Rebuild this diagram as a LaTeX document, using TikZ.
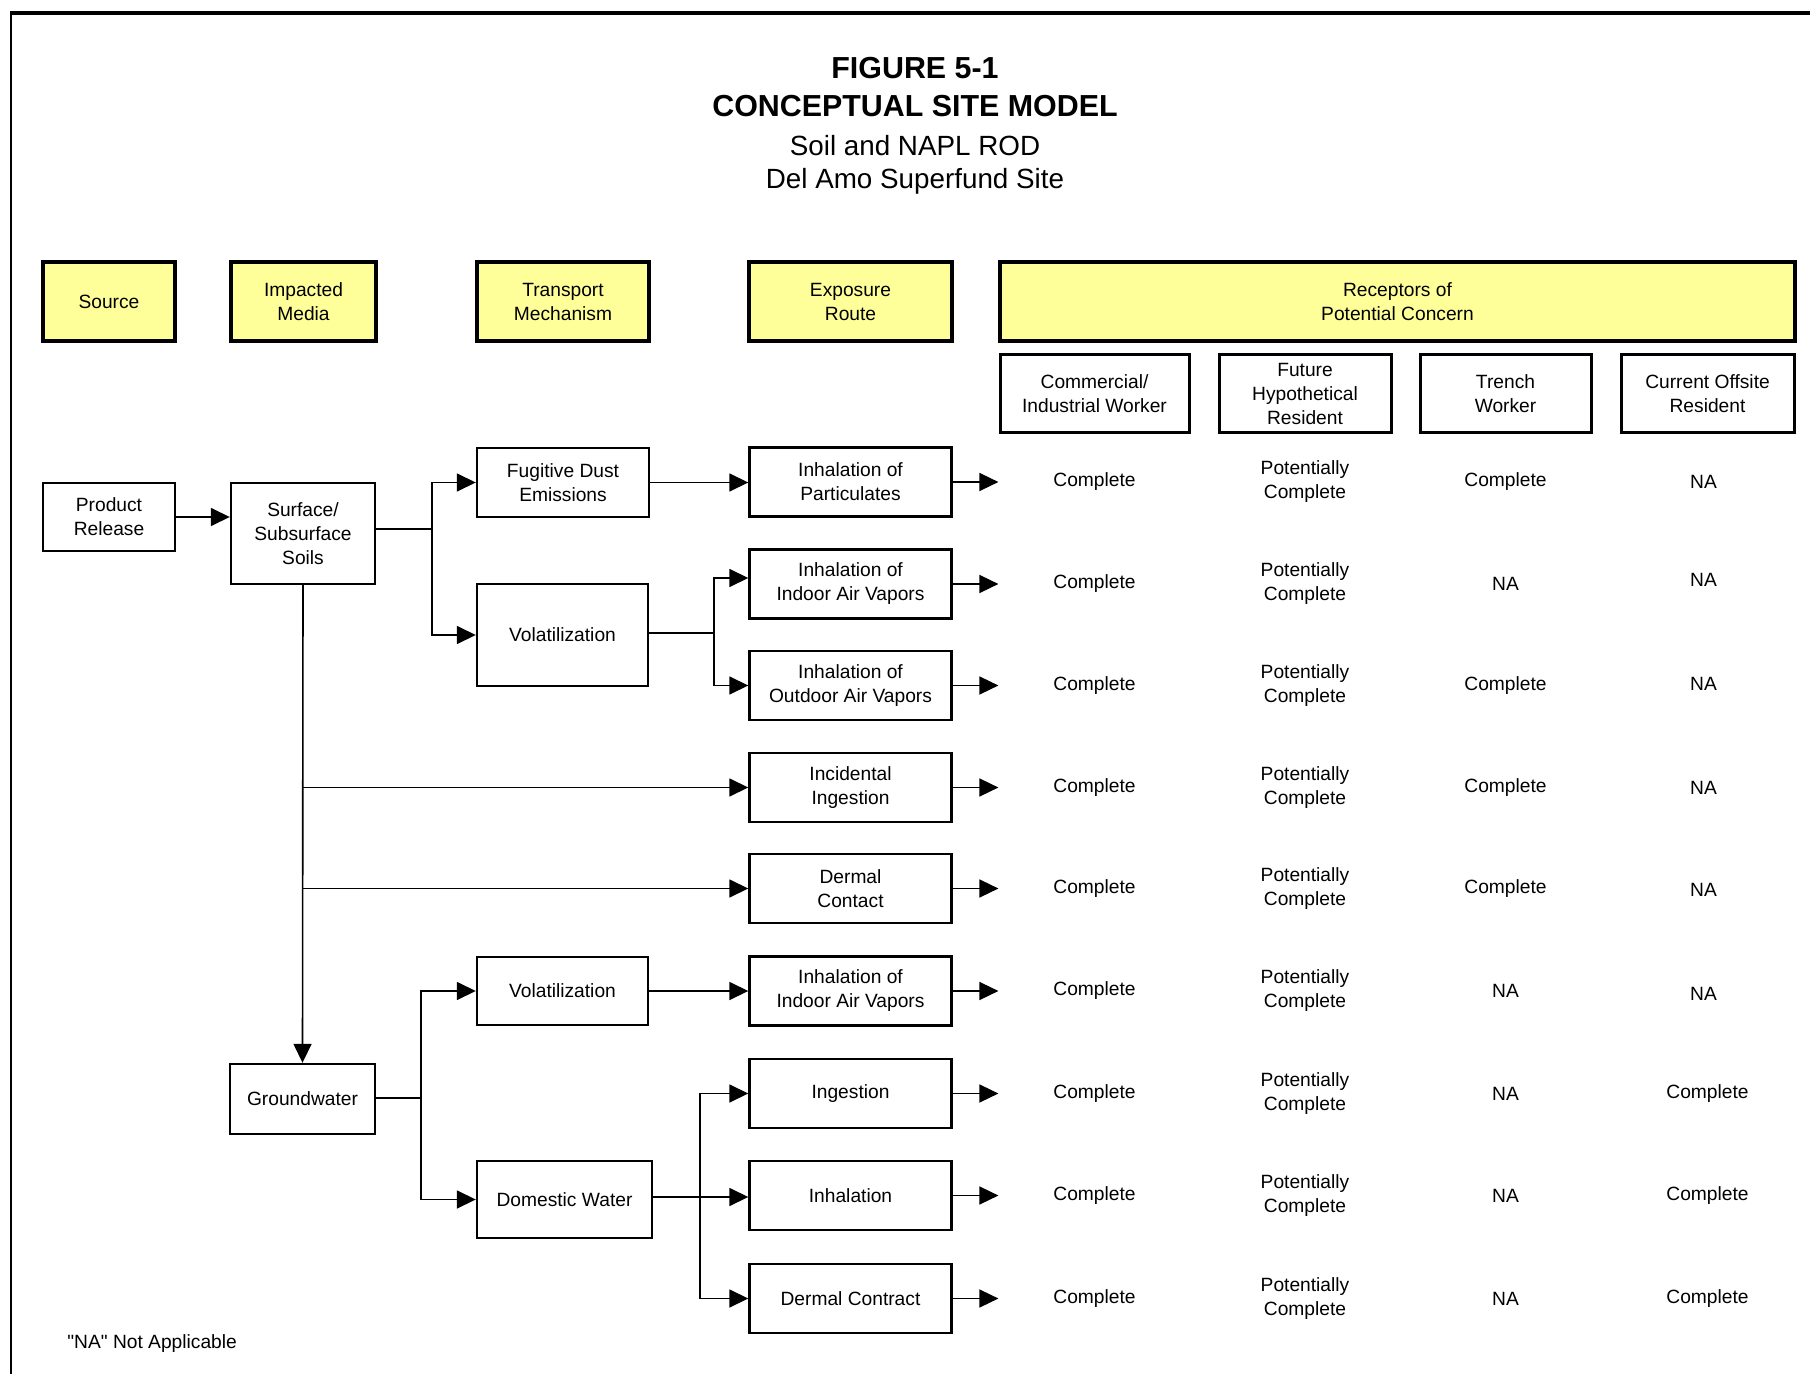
\documentclass[tikz,border=0pt]{standalone}
\usepackage{fontspec}
\setmainfont{Liberation Sans}
\usetikzlibrary{arrows.meta}
\definecolor{hdryellow}{HTML}{FFFF99}
\newcommand{\cmbody}{\fontsize{9.6pt}{12pt}\selectfont}
\newcommand{\cmtitle}{\fontsize{15.2pt}{18pt}\selectfont\bfseries}
\newcommand{\cmsub}{\fontsize{13.9pt}{16pt}\selectfont}
\begin{document}
\begin{tikzpicture}[x=0.5pt,y=-0.5pt,
  box/.style={draw, line width=1.2pt, fill=white, align=center, inner sep=0pt, font=\cmbody},
  hdr/.style={box, fill=hdryellow, line width=1.6pt},
  lbl/.style={align=center, inner sep=0pt, font=\cmbody},
  conn/.style={line width=0.8pt},
  arr/.style={conn, -{Triangle[length=9.5pt,width=9pt]}},
  expbox/.style={box, minimum width=101pt, minimum height=34.5pt}
]
\useasboundingbox (0,0) rectangle (1810,1374);
\fill[white] (0,0) rectangle (1810,1374);
% frame
\draw[line width=1.65pt] (10,13) -- (1810,13);
\draw[line width=1.25pt] (11,13) -- (11,1374);

% titles
\node[inner sep=0pt, anchor=base, font=\cmtitle] (t1) at (915,79) {FIGURE 5-1};
\node[inner sep=0pt, anchor=base, font=\cmtitle] (t2) at (915,116.5) {CONCEPTUAL SITE MODEL};
\node[inner sep=0pt, anchor=base, font=\cmsub] (t3) at (915,156) {Soil and NAPL ROD};
\node[inner sep=0pt, anchor=base, font=\cmsub] (t4) at (915,189) {Del Amo Superfund Site};

% header boxes
\node[hdr, minimum width=66pt, minimum height=39.5pt] (src) at (109,301.5) {Source};
\node[hdr, minimum width=72.5pt, minimum height=39.5pt] (med) at (303.5,301.5) {Impacted\\Media};
\node[hdr, minimum width=86pt, minimum height=39.5pt] (trn) at (563,301.5) {Transport\\Mechanism};
\node[hdr, minimum width=101.5pt, minimum height=39.5pt] (exp) at (850.5,301.5) {Exposure\\Route};
\node[hdr, minimum width=397.5pt, minimum height=39.5pt] (rec) at (1397.5,301.5) {Receptors of\\Potential Concern};

% receptor sub headers
\node[box, line width=1.5pt, minimum width=94.5pt, minimum height=39pt] (r1) at (1094.5,394) {Commercial/\\Industrial Worker};
\node[box, line width=1.5pt, minimum width=86pt, minimum height=39pt] (r2) at (1305,394) {Future\\Hypothetical\\Resident};
\node[box, line width=1.5pt, minimum width=85.5pt, minimum height=39pt] (r3) at (1505.5,394) {Trench\\Worker};
\node[box, line width=1.5pt, minimum width=86.5pt, minimum height=39pt] (r4) at (1707.5,394) {Current Offsite\\Resident};

% source / media
\node[box, minimum width=66pt, minimum height=34pt] (pr) at (109,517) {Product\\Release};
\node[box, minimum width=72pt, minimum height=50.5pt] (ss) at (303,533.5) {Surface/\\Subsurface\\Soils};
\node[box, minimum width=72.5pt, minimum height=35pt] (gw) at (302.5,1099) {Groundwater};

% transport
\node[box, minimum width=86pt, minimum height=34.5pt] (fd) at (563,482.5) {Fugitive Dust\\Emissions};
\node[box, minimum width=85.5pt, minimum height=51pt] (v1) at (562.5,635) {Volatilization};
\node[box, minimum width=85.5pt, minimum height=34pt] (v2) at (562.5,991) {Volatilization};
\node[box, minimum width=87.5pt, minimum height=38.5pt] (dw) at (564.5,1199.5) {Domestic Water};

% exposure routes
\node[expbox] (e1) at (850.5,482) {Inhalation of\\Particulates};
\node[expbox] (e2) at (850.5,584) {Inhalation of\\Indoor Air Vapors};
\node[expbox] (e3) at (850.5,685.5) {Inhalation of\\Outdoor Air Vapors};
\node[expbox] (e4) at (850.5,787.5) {Incidental\\Ingestion};
\node[expbox] (e5) at (850.5,888.5) {Dermal\\Contact};
\node[expbox] (e6) at (850.5,991) {Inhalation of\\Indoor Air Vapors};
\node[expbox] (e7) at (850.5,1093.5) {Ingestion};
\node[expbox] (e8) at (850.5,1195.5) {Inhalation};
\node[expbox] (e9) at (850.5,1298.5) {Dermal Contract};

% connectors
\draw[arr] (pr.east) -- (pr.east -| ss.west);
\coordinate (b1) at (432,529);
\draw[conn] (b1 -| ss.east) -- (b1);
\draw[arr] (b1) |- (fd.west);
\draw[arr] (b1) |- (v1.west);
\draw[arr] (fd.east) -- (fd.east -| e1.west);
\coordinate (b2) at (714,633);
\draw[conn] (b2 -| v1.east) -- (b2);
\draw[arr] (b2) |- ([yshift=3pt]e2.west);
\draw[arr] (b2) |- (e3.west);
\draw[arr] (ss.south) -- (gw.north);
\draw[arr] (ss.south |- e4.west) -- (e4.west);
\draw[arr] (ss.south |- e5.west) -- (e5.west);
\coordinate (b3) at (421,1098);
\draw[conn] (b3 -| gw.east) -- (b3);
\draw[arr] (b3) |- (v2.west);
\draw[arr] (b3) |- (dw.west);
\draw[arr] (v2.east) -- (v2.east -| e6.west);
\coordinate (b4) at (700,1197);
\draw[arr] (b4 -| dw.east) -- (b4 -| e8.west);
\draw[arr] (b4) |- (e7.west);
\draw[arr] (b4) |- (e9.west);

% arrows to receptors
\foreach \e in {e1,e2,e3,e4,e5,e6,e7,e8,e9}
  \draw[arr] (\e.east) -- (\e.east -| rec.west);

% receptor evaluations
\foreach \e/\a/\b/\c/\d/\dx/\dy in {
  e1/Complete/{Potentially\\Complete}/Complete/NA/-4/0,
  e2/Complete/{Potentially\\Complete}/NA/NA/-4/-4,
  e3/Complete/{Potentially\\Complete}/Complete/NA/-4/-2,
  e4/Complete/{Potentially\\Complete}/Complete/NA/-4/0,
  e5/Complete/{Potentially\\Complete}/Complete/NA/-4/1,
  e6/Complete/{Potentially\\Complete}/NA/NA/-4/3,
  e7/Complete/{Potentially\\Complete}/NA/Complete/0/0,
  e8/Complete/{Potentially\\Complete}/NA/Complete/0/0,
  e9/Complete/{Potentially\\Complete}/NA/Complete/0/0}{
  \node[lbl] (\e c1) at (r1 |- \e) {\a};
  \node[lbl] (\e c2) at (r2 |- \e) {\b};
  \node[lbl] (\e c3) at (r3 |- \e) {\c};
  \node[lbl, xshift=\dx*0.5pt, yshift=-\dy*0.5pt] (\e c4) at (r4 |- \e) {\d};
}

\node[lbl, anchor=base west] (note) at (67,1348) {\addfontfeatures{Ligatures=TeXOff}"NA" Not Applicable};
\end{tikzpicture}
\end{document}
